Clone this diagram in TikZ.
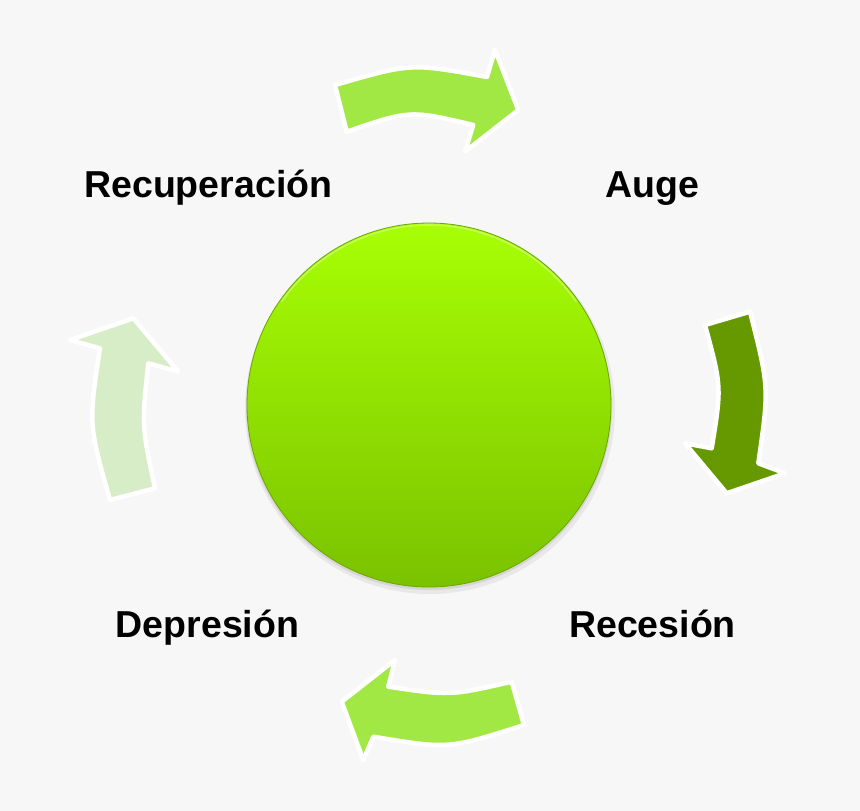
\documentclass[tikz,border=0pt]{standalone}
\usepackage{fontspec}
\setmainfont{Liberation Sans}
\definecolor{bg}{RGB}{247,247,247}
\definecolor{arrowmid}{RGB}{162,232,68}
\definecolor{arrowdark}{RGB}{102,153,0}
\definecolor{arrowpale}{RGB}{215,237,199}
\definecolor{ctop}{RGB}{168,255,4}
\definecolor{cbot}{RGB}{122,194,0}
\definecolor{cedge}{RGB}{110,165,0}
\tikzset{
  cyclearrow/.style={draw=white, line width=4.5pt, line join=round},
  phaselabel/.style={anchor=base, font=\bfseries\fontsize{37.5}{42}\selectfont, text=black, inner sep=0pt}
}
\begin{document}
\begin{tikzpicture}[x=1pt,y=-1pt]
\fill[bg] (0,0) rectangle (860,811);
\useasboundingbox (0,0) rectangle (860,811);
% shadow
\fill[black, opacity=0.06] (430,409) circle (185);
\fill[black, opacity=0.08] (429,407) circle (183);
% central circle
\shade[top color=ctop, bottom color=cbot] (429,405) circle (182);
\draw[cedge, line width=0.8pt] (429,405) circle (182);
\draw[white, opacity=0.35, line width=1.5pt] (429,405) ++(215:180) arc[start angle=215, end angle=325, radius=180];
\node[circle, minimum size=364pt, inner sep=0pt] (hub) at (429,405) {};
% top arrow
\path[cyclearrow, fill=arrowmid] (335,85) .. controls (411,63) .. (487,77)
  -- (495,50) -- (518.3,110) -- (465,151.7) -- (473.3,125)
  .. controls (410,110) .. (346.7,131.7) -- cycle;
% right arrow
\path[cyclearrow, fill=arrowdark] (705,325) -- (750,311.7)
  .. controls (769.2,387.5) .. (758.3,463.3)
  -- (785,473.3) -- (726.7,493.3) -- (685,443.3) -- (711.7,448.3)
  .. controls (721.7,386.7) .. (705,325) -- cycle;
% bottom arrow
\path[cyclearrow, fill=arrowmid] (511.7,681.7) -- (524,725)
  .. controls (448.7,749.2) .. (373.3,736.7)
  -- (363.3,760) -- (341.7,701.7) -- (395,660) -- (388.3,686.7)
  .. controls (450,695.8) .. (511.7,681.7) -- cycle;
% left arrow
\path[cyclearrow, fill=arrowpale] (110,500) -- (155,488.3)
  .. controls (141.7,425.8) .. (148.3,363.3)
  -- (178.3,371.7) -- (133.3,318.3) -- (70,340) -- (100,348.3)
  .. controls (88.4,424) .. (110,500) -- cycle;
% labels
\node[phaselabel] (recup) at (208.3,197.5) {Recuperación};
\node[phaselabel] (auge) at (652,197.5) {Auge};
\node[phaselabel] (reces) at (652.5,637.3) {Recesión};
\node[phaselabel] (depre) at (207.5,637.3) {Depresión};
\end{tikzpicture}
\end{document}
